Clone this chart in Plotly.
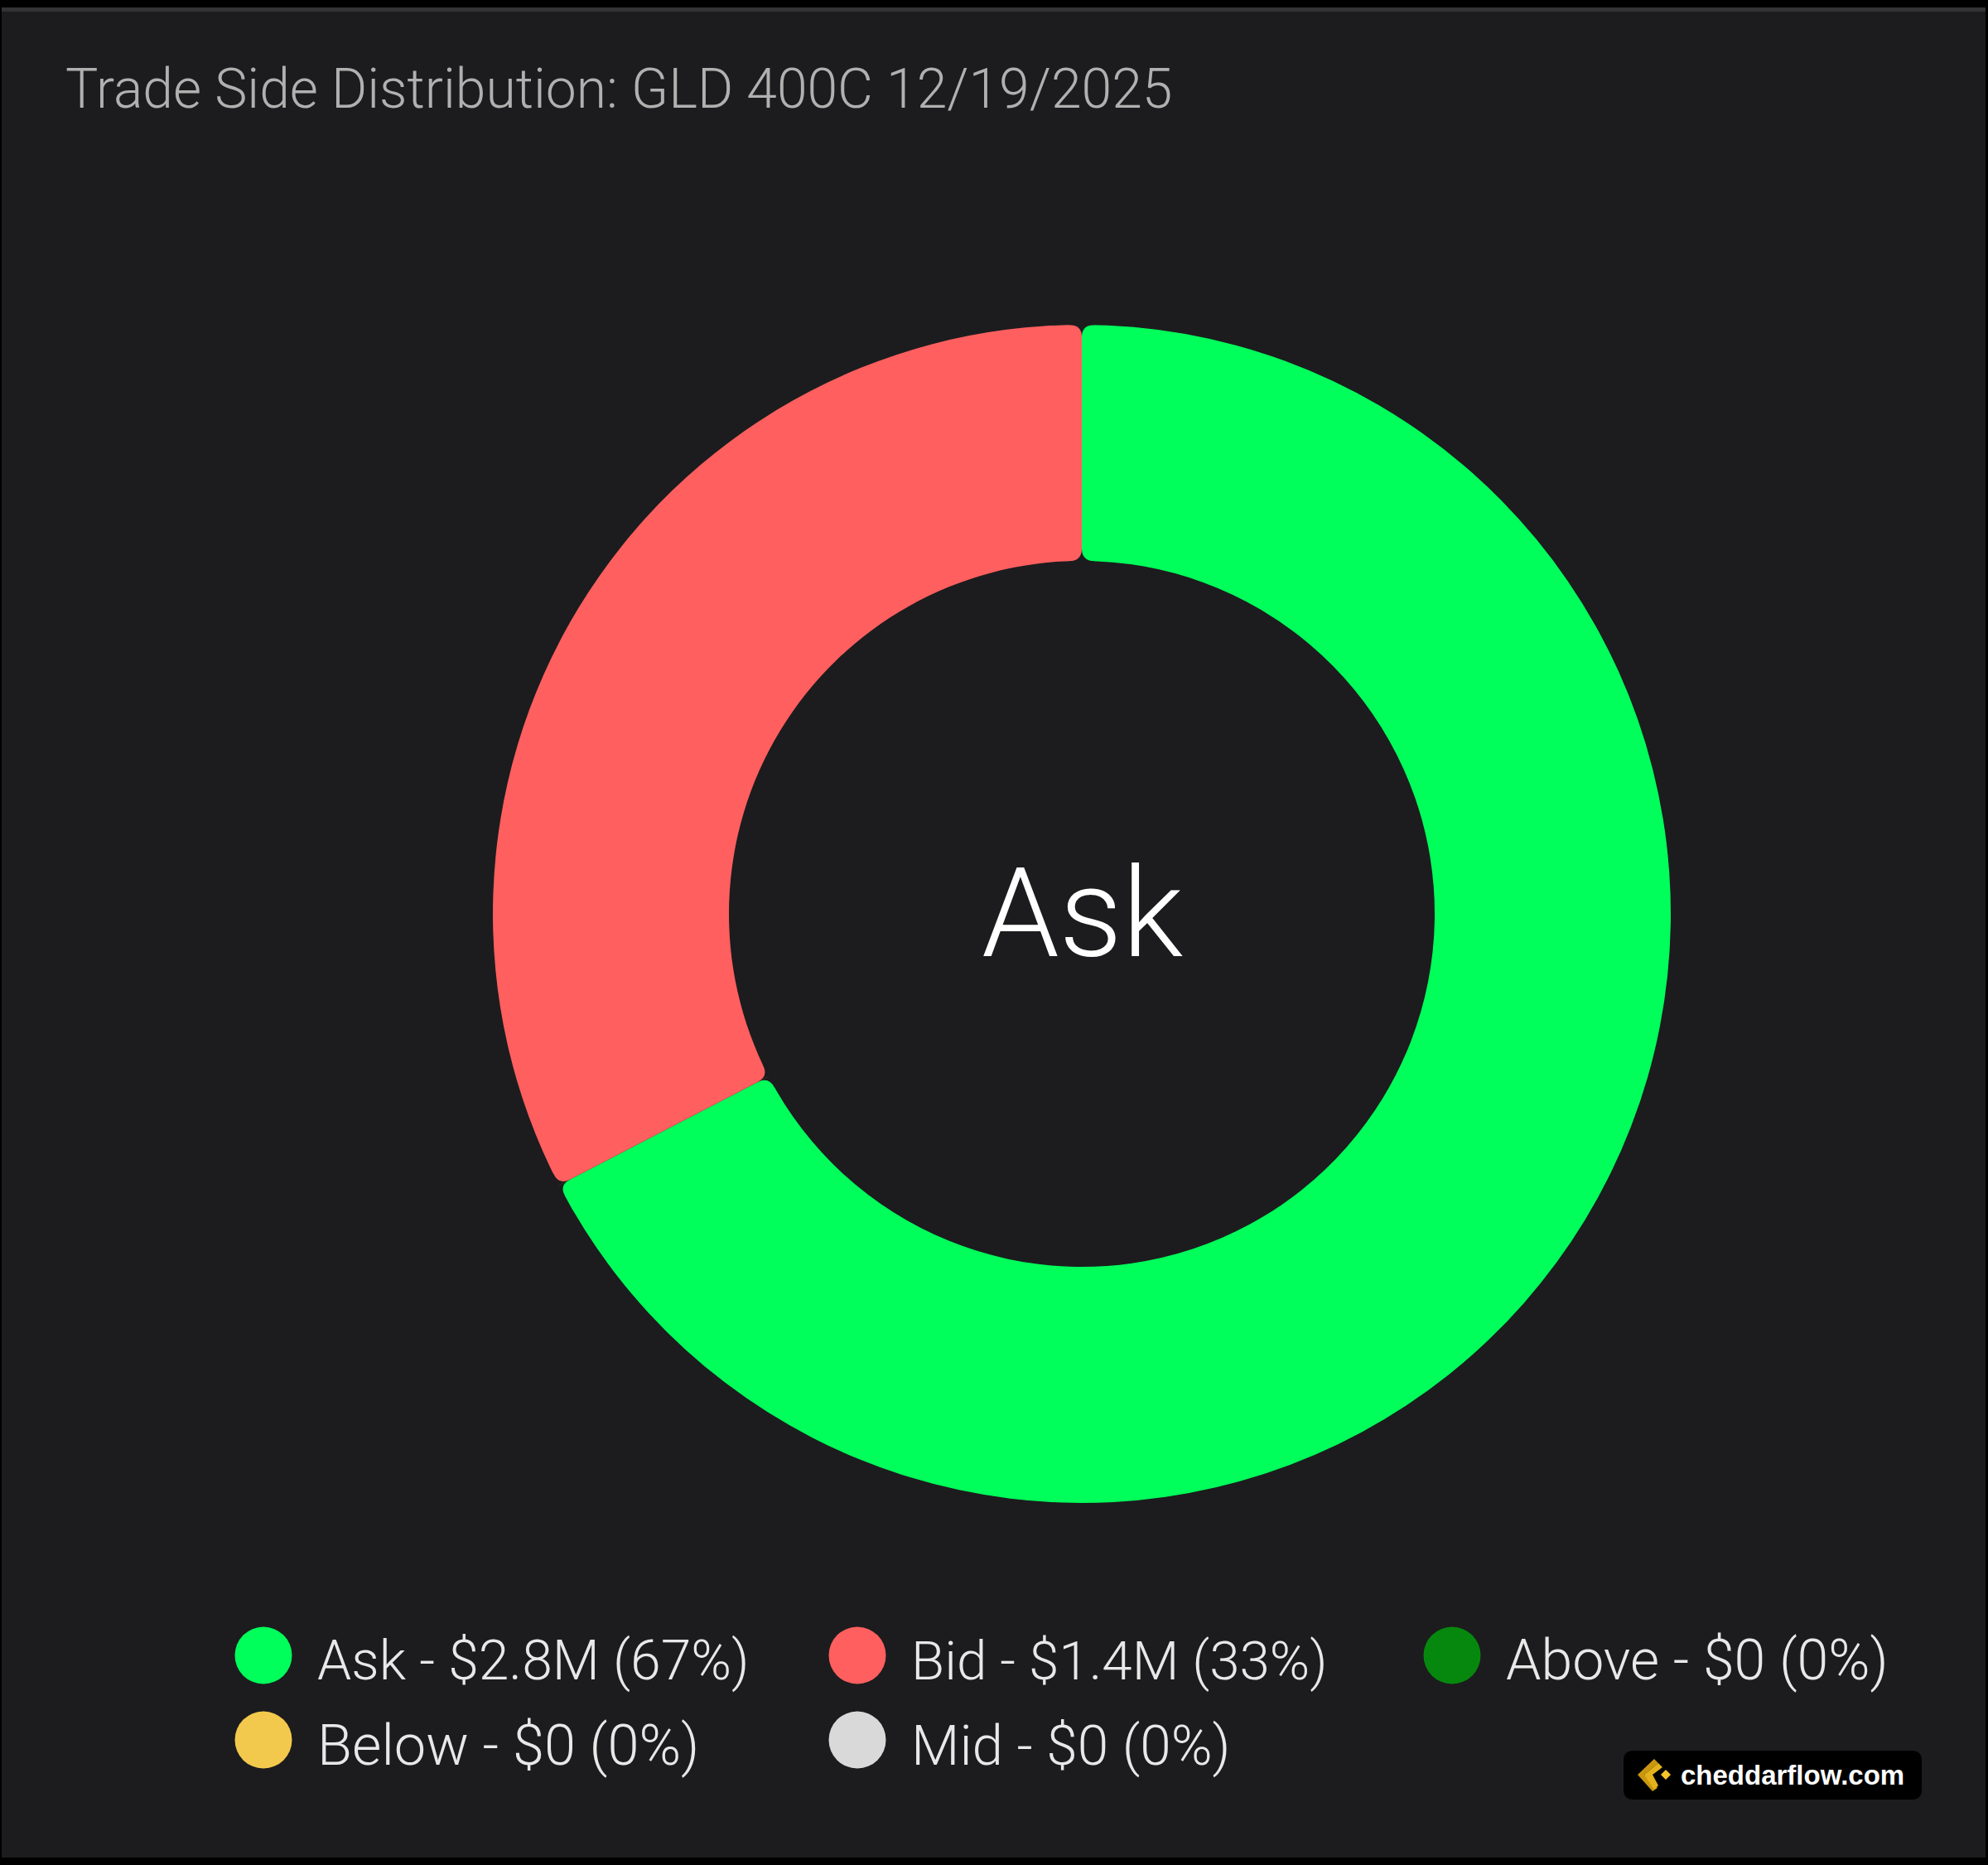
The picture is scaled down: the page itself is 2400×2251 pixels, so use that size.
import math
import plotly.graph_objects as go

W, H = 2400, 2251
PANEL = "#1c1c1e"

# trade side values, $M
sides = ["Ask", "Bid", "Above", "Below", "Mid"]
values = [2.83, 1.37, 0, 0, 0]
colors = ["#00ff5a", "#ff5f5f", "#06880e", "#f2c94c", "#d9d9d9"]
legend_labels = [
    "Ask - $2.8M (67%)",
    "Bid - $1.4M (33%)",
    "Above - $0 (0%)",
    "Below - $0 (0%)",
    "Mid - $0 (0%)",
]
legend_x = [318, 1035, 1753, 318, 1035]
legend_y = [1998, 1998, 1998, 2100, 2100]
# Roboto is not the original face, sizes differ a bit to keep the label widths
legend_font = [66, 65.5, 68, 68.5, 67.5]

title = "Trade Side Distribution: GLD 400C 12/19/2025"
center_text = "Ask"
brand = "cheddarflow.com"

cx, cy = 1306, 1103
r_out, r_in = 711, 426
FONT = "Roboto"


def corner_masks(fraction):
    # pie has no corner radius, so cut the four corners at a slice boundary
    a = 2 * math.pi * fraction
    ux, uy = math.sin(a), -math.cos(a)
    c = 15
    paths = []
    for R, inward in ((r_out, -1), (r_in, 1)):
        for side in (-1, 1):
            da = side * c / R
            qx, qy = cx + R * ux, cy + R * uy
            p1x, p1y = qx + inward * c * ux, qy + inward * c * uy
            p2x, p2y = cx + R * math.sin(a + da), cy - R * math.cos(a + da)
            # push the outer edge of the mask past the arc
            ox, oy = -inward * 3 * ux, -inward * 3 * uy
            paths.append(
                f"M{p1x:.1f},{p1y:.1f} Q{qx:.1f},{qy:.1f} {p2x:.1f},{p2y:.1f} "
                f"L{p2x + ox:.1f},{p2y + oy:.1f} L{qx + ox:.1f},{qy + oy:.1f} Z"
            )
    return paths


fig = go.Figure()

fig.add_trace(go.Pie(
    labels=sides,
    values=values,
    marker=dict(colors=colors, line=dict(width=0)),
    hole=r_in / r_out,
    sort=False,
    direction="clockwise",
    rotation=0,
    textinfo="none",
    showlegend=False,
    hoverinfo="label+percent",
    domain=dict(
        x=[(cx - r_out) / W, (cx + r_out) / W],
        y=[1 - (cy + r_out) / H, 1 - (cy - r_out) / H],
    ),
))

# legend dots
fig.add_trace(go.Scatter(
    x=legend_x,
    y=legend_y,
    mode="markers",
    marker=dict(size=69, color=colors, line=dict(width=0)),
    text=legend_labels,
    hoverinfo="text",
    showlegend=False,
))

annotations = [
    dict(x=cx, y=cy, text=center_text, showarrow=False, xanchor="center", yanchor="middle",
         font=dict(family=FONT, size=150, color="#ffffff", weight=300)),
    dict(x=2027, y=2142, text=brand, showarrow=False, xanchor="left", yanchor="middle",
         font=dict(family="Liberation Sans", size=33, color="#ffffff", weight=700)),
]
for lx, ly, lab, fs in zip(legend_x, legend_y, legend_labels, legend_font):
    annotations.append(dict(
        x=lx + 63, y=ly + 6, text=lab, showarrow=False, xanchor="left", yanchor="middle",
        font=dict(family=FONT, size=fs, color="#e8e8e8", weight=300),
    ))
annotations.append(dict(
    x=77, y=107, text=title, showarrow=False, xanchor="left", yanchor="middle",
    font=dict(family=FONT, size=66, color="#b0b0b0", weight=300),
))

shapes = [
    dict(type="rect", x0=2, x1=2397, y0=9, y1=2242, layer="below",
         fillcolor=PANEL, line=dict(width=0)),
    dict(type="rect", x0=2, x1=2397, y0=9, y1=14, layer="below",
         fillcolor="#333335", line=dict(width=0)),
    # brand badge
    dict(type="path", layer="above", fillcolor="#000000", line=dict(width=0),
         path="M1972,2113 L2308,2113 Q2320,2113 2320,2125 L2320,2160 Q2320,2172 2308,2172 "
              "L1972,2172 Q1960,2172 1960,2160 L1960,2125 Q1960,2113 1972,2113 Z"),
    dict(type="path", layer="above", fillcolor="#c9970f", line=dict(width=0),
         path="M1997,2123 L2002,2128 L1985,2142 L2001,2158 L1995,2162 L1977,2142 Z"),
    dict(type="path", layer="above", fillcolor="#e5b21c", line=dict(width=0),
         path="M2002,2128 L2007,2133 L1995,2142 L2002,2155 L1997,2160 L1985,2142 Z"),
    dict(type="path", layer="above", fillcolor="#f7c52a", line=dict(width=0),
         path="M2011,2136 L2017,2142 L2011,2148 L2005,2142 Z"),
]
# slice boundaries: top of the ring and the Ask/Bid split
total = sum(values)
for frac in (0, values[0] / total):
    for p in corner_masks(frac):
        shapes.append(dict(type="path", path=p, layer="above", fillcolor=PANEL, line=dict(width=0)))

fig.update_layout(
    width=W,
    height=H,
    margin=dict(l=0, r=0, t=0, b=0),
    paper_bgcolor="#000000",
    plot_bgcolor="rgba(0,0,0,0)",
    showlegend=False,
    xaxis=dict(range=[0, W], visible=False, fixedrange=True, domain=[0, 1]),
    yaxis=dict(range=[H, 0], visible=False, fixedrange=True, domain=[0, 1]),
    annotations=annotations,
    shapes=shapes,
)

fig.write_html("out.html", config=dict(displayModeBar=False),
               post_script="document.body.style.margin='0';")
